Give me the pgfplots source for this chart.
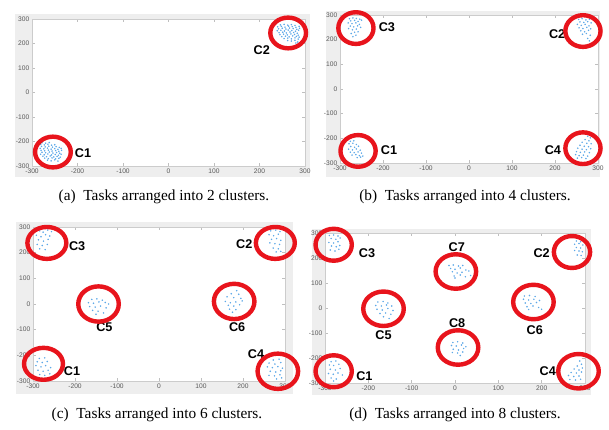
\documentclass[border=0pt]{standalone}
\usepackage{pgfplots}
\pgfplotsset{compat=1.18}
\usepackage{fontspec}
\setmainfont{Liberation Serif}
\newfontfamily\lsans{Liberation Sans}

\definecolor{bgray}{HTML}{EEEEEE}
\definecolor{dotblue}{HTML}{5CA8E8}
\definecolor{circred}{HTML}{E8141C}

\pgfplotsset{
  clusterax/.style={
    scale only axis, clip=false,
    xmin=-300, xmax=300, ymin=-300, ymax=300,
    xtick={-300,-200,...,300}, ytick={-300,-200,...,300},
    axis line style={gray!40},
    tick style={gray!50, line width=0.3pt},
    major tick length=2pt, tick align=inside,
    tick label style={font=\lsans\fontsize{5}{6}\selectfont, text=black!65},
    /pgf/number format/assume math mode=true,
    axis background/.style={fill=white},
    xticklabel style={yshift=1.5pt},
    yticklabel style={xshift=1.5pt},
  },
  dots/.style={only marks, mark=*, mark size=0.33pt, color=dotblue,
    mark options={draw=none, fill=dotblue}},
  ring/.style={only marks, mark=o, color=circred, line width=3.3pt},
}
\tikzset{clab/.style={font=\lsans\bfseries\fontsize{9.5}{10}\selectfont},
  subcap/.style={font=\fontsize{11.5}{13}\selectfont}}

\begin{document}
\begin{tikzpicture}[x=0.75pt, y=0.75pt]
\path (0,0) rectangle (609,429);
% grey panels
\fill[bgray] (15,252) rectangle (310,415);
\fill[bgray] (326,252) rectangle (600,418);
\fill[bgray] (16,35) rectangle (293,207);
\fill[bgray] (312,34) rectangle (591,200);

% (a) 2 clusters
\begin{axis}[clusterax, at={(24pt,197.25pt)}, anchor=south west, width=204.75pt, height=110.25pt]
\addplot[dots] coordinates {
(-278,-205)(-270,-207)(-262,-204)
(-281,-212)(-273,-214)(-265,-211)(-257,-215)(-250,-213)
(-279,-220)(-271,-222)(-263,-219)(-255,-223)(-247,-221)(-240,-224)
(-282,-228)(-274,-230)(-266,-227)(-258,-231)(-250,-229)(-243,-232)(-236,-228)
(-280,-236)(-272,-238)(-264,-235)(-256,-239)(-248,-237)(-241,-240)(-235,-236)
(-278,-244)(-270,-246)(-262,-243)(-254,-247)(-246,-245)(-239,-248)
(-281,-252)(-273,-254)(-265,-251)(-257,-255)(-249,-253)(-242,-256)(-236,-252)
(-276,-260)(-268,-262)(-260,-259)(-252,-263)(-245,-261)(-238,-264)
(-272,-268)(-264,-270)(-256,-267)(-248,-271)(-241,-269)
(-266,-276)(-258,-279)(-250,-275)(-243,-280)
};
\addplot[dots] coordinates {
(246,276)(254,278)(262,275)(270,277)(278,274)
(240,268)(248,270)(256,267)(264,271)(272,269)(280,266)(287,270)
(242,260)(250,262)(258,259)(266,263)(274,261)(282,258)(288,262)
(239,252)(247,254)(255,251)(263,255)(271,253)(279,250)(286,254)
(243,244)(251,246)(259,243)(267,247)(275,245)(283,242)
(245,236)(253,238)(261,235)(269,239)(277,237)(285,234)
(249,228)(257,230)(265,227)(273,231)(281,229)(287,226)
(254,220)(262,222)(270,219)(278,223)(285,218)
(262,212)(270,210)(278,213)(284,206)(280,202)
};
\addplot[ring, mark size=13.4pt, mark options={yscale=0.86}] coordinates {(-254,-243)(263,243)};
\node[clab] at (axis cs:-188,-247) {C1};
\node[clab] at (axis cs:205,173) {C2};
\end{axis}

% (b) 4 clusters
\begin{axis}[clusterax, at={(255pt,199.5pt)}, anchor=south west, width=193.5pt, height=111pt]
\addplot[dots] coordinates {
(-278,285)(-270,288)(-262,286)(-254,283)(-275,276)(-266,278)(-258,274)(-250,279)
(-281,268)(-272,265)(-263,268)(-255,262)(-276,255)(-268,252)(-259,256)(-252,250)
(-280,245)(-271,240)(-262,243)(-266,230)(-258,232)(-274,225)(-263,218)(-270,212)
};
\addplot[dots] coordinates {
(255,282)(263,285)(272,280)(280,283)(258,272)(267,270)(276,273)(284,268)
(252,262)(261,258)(270,262)(279,256)(256,248)(265,245)(274,250)(283,244)
(260,236)(269,232)(278,238)(264,222)(273,225)(282,218)(276,205)(280,195)
};
\addplot[dots] coordinates {
(-276,-212)(-268,-210)(-279,-222)(-270,-220)(-262,-225)(-275,-233)(-266,-236)(-257,-232)
(-280,-244)(-271,-247)(-262,-243)(-253,-248)(-276,-256)(-267,-258)(-258,-255)(-250,-260)
(-272,-268)(-263,-266)(-255,-270)(-247,-272)(-260,-278)(-252,-276)
};
\addplot[dots] coordinates {
(276,-192)(282,-198)(270,-205)(279,-210)(263,-216)(274,-220)(284,-222)(258,-228)
(268,-232)(278,-234)(253,-240)(263,-244)(273,-246)(283,-242)(250,-254)(259,-257)
(269,-255)(280,-258)(248,-266)(256,-270)(266,-268)(276,-272)(252,-280)(262,-278)(272,-282)
};
\addplot[ring, mark size=13.2pt, mark options={yscale=0.9}] coordinates {(-263,247)(265,235)(-258,-251)(265,-240)};
\node[clab] at (axis cs:-191,251) {C3};
\node[clab] at (axis cs:205,223) {C2};
\node[clab] at (axis cs:-186,-247) {C1};
\node[clab] at (axis cs:195,-247) {C4};
\end{axis}

% (c) 6 clusters
\begin{axis}[clusterax, at={(24.75pt,36pt)}, anchor=south west, width=189pt, height=115.5pt]
\addplot[dots] coordinates {
(-284,285)(-276,280)(-265,288)(-256,282)(-292,268)(-281,262)(-270,270)(-260,265)
(-287,250)(-275,245)(-264,252)(-290,232)(-278,228)(-266,232)(-284,215)(-271,212)
};
\addplot[dots] coordinates {
(266,285)(278,288)(288,282)(262,270)(273,266)(284,272)(268,252)(280,255)
(290,248)(264,238)(276,235)(287,232)(272,218)(284,215)(279,203)(290,205)
};
\addplot[dots] coordinates {
(-160,18)(-148,20)(-135,15)(-168,5)(-156,3)(-143,8)(-128,6)(-120,0)
(-165,-10)(-152,-12)(-139,-8)(-126,-15)(-158,-25)(-145,-28)(-132,-35)(-150,-40)
};
\addplot[dots] coordinates {
(185,52)(172,40)(190,38)(162,28)(178,25)(195,22)(158,10)(170,5)
(183,8)(198,12)(165,-5)(178,-8)(192,-3)(168,-20)(183,-22)(175,-32)
};
\addplot[dots] coordinates {
(-285,-212)(-272,-210)(-290,-225)(-278,-228)(-266,-224)(-293,-240)(-281,-245)(-270,-240)
(-258,-248)(-288,-258)(-276,-262)(-264,-258)(-284,-275)(-272,-278)(-260,-272)(-280,-290)(-266,-288)
};
\addplot[dots] coordinates {
(272,-218)(286,-215)(262,-230)(276,-234)(290,-228)(258,-245)(270,-248)(283,-244)
(294,-250)(265,-262)(278,-265)(290,-260)(262,-278)(275,-280)(288,-276)(280,-292)(292,-288)
};
\addplot[ring, mark size=14.6pt, mark options={yscale=0.82}] coordinates {(-267,238)(277,238)(-275,-233)};
\addplot[ring, mark size=15.2pt, mark options={yscale=0.87}] coordinates {(-144,0)(179,10)(283,-262)};
\node[clab] at (axis cs:-195,227) {C3};
\node[clab] at (axis cs:203,234) {C2};
\node[clab] at (axis cs:-130,-92) {C5};
\node[clab] at (axis cs:186,-92) {C6};
\node[clab] at (axis cs:-207,-262) {C1};
\node[clab] at (axis cs:231,-197) {C4};
\end{axis}

% (d) 8 clusters
\begin{axis}[clusterax, at={(243.75pt,34.5pt)}, anchor=south west, width=195pt, height=112.5pt]
\addplot[dots] coordinates {
(-290,290)(-280,292)(-270,288)(-286,278)(-275,275)(-265,280)(-291,262)(-280,260)
(-270,265)(-285,248)(-274,245)(-266,250)(-288,232)(-277,228)(-268,235)
};
\addplot[dots] coordinates {
(-14,170)(-4,172)(8,168)(18,170)(-10,158)(0,155)(12,160)(25,152)(-6,145)
(5,140)(16,143)(32,148)(-2,128)(12,132)(24,125)(36,130)(0,120)
};
\addplot[dots] coordinates {
(280,268)(290,265)(276,255)(286,258)(295,252)(280,242)(290,240)(276,230)
(286,228)(294,225)(282,212)(291,210)
};
\addplot[dots] coordinates {
(-178,24)(-166,26)(-155,20)(-183,10)(-170,8)(-158,12)(-146,8)(-180,-5)
(-168,-8)(-155,-2)(-143,-10)(-173,-22)(-160,-20)(-148,-25)(-165,-35)(-152,-42)
};
\addplot[dots] coordinates {
(160,48)(172,50)(185,46)(158,35)(170,32)(182,35)(195,30)(162,20)
(175,18)(188,22)(166,5)(180,8)(193,2)(170,-6)(200,-5)
};
\addplot[dots] coordinates {
(-5,-138)(6,-135)(18,-140)(-8,-150)(3,-152)(15,-148)(25,-155)(-4,-165)
(8,-168)(20,-162)(-6,-178)(6,-180)(18,-176)(12,-190)
};
\addplot[dots] coordinates {
(-286,-215)(-275,-212)(-290,-228)(-280,-230)(-268,-225)(-288,-245)(-276,-248)(-265,-242)
(-292,-262)(-281,-265)(-270,-260)(-260,-268)(-286,-280)(-274,-284)(-280,-292)
};
\addplot[dots] coordinates {
(288,-212)(292,-225)(282,-232)(294,-240)(275,-244)(286,-248)(268,-258)(280,-260)
(292,-256)(262,-270)(274,-274)(286,-272)(265,-286)(278,-288)(290,-285)
};
\addplot[ring, mark size=13.6pt, mark options={yscale=0.88}] coordinates {(-280,253)(270,224)(-280,-253)};
\addplot[ring, mark size=15.2pt, mark options={yscale=0.85}] coordinates {(2,146)(-165,-3)(181,24)(7,-158)(285,-253)};
\node[clab] at (axis cs:-203,220) {C3};
\node[clab] at (axis cs:4,244) {C7};
\node[clab] at (axis cs:200,220) {C2};
\node[clab] at (axis cs:-165,-110) {C5};
\node[clab] at (axis cs:184,-87) {C6};
\node[clab] at (axis cs:5,-60) {C8};
\node[clab] at (axis cs:-209,-271) {C1};
\node[clab] at (axis cs:214,-251) {C4};
\end{axis}

% captions
\node[subcap] at (164,232) {(a)\enspace Tasks arranged into 2 clusters.};
\node[subcap] at (465,232) {(b)\enspace Tasks arranged into 4 clusters.};
\node[subcap] at (157,14) {(c)\enspace Tasks arranged into 6 clusters.};
\node[subcap] at (455,14) {(d)\enspace Tasks arranged into 8 clusters.};
\end{tikzpicture}
\end{document}
